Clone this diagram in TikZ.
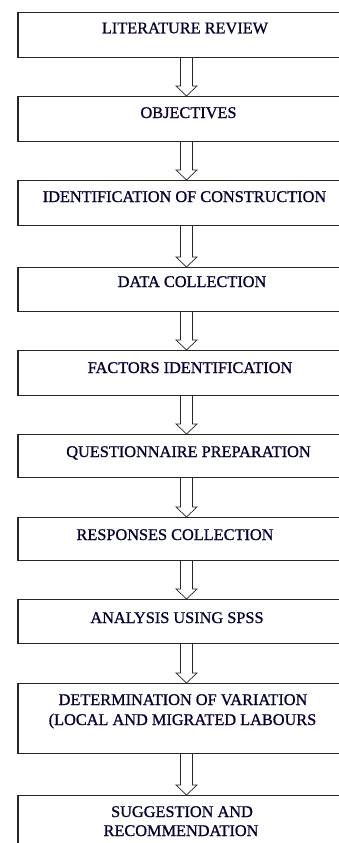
\documentclass[tikz,border=0pt]{standalone}
\usepackage{fontspec}
\setmainfont{Liberation Serif}
\newfontfamily\boxfont{Liberation Serif}[FakeBold=0.9]
\usetikzlibrary{calc}
\begin{document}
\begin{tikzpicture}[x=1pt,y=-1pt,
  stepbox/.style={draw=black!85, line width=1.2pt, rectangle, minimum width=337pt, inner sep=0pt, anchor=north},
  lbl/.style={anchor=base, inner sep=0pt, font=\boxfont\fontsize{16.3}{20}\selectfont, text=black!80!blue},
  flowarrow/.style={draw=black!85, line width=0.7pt, fill=white},
  ]
\useasboundingbox (0,0) rectangle (338,843);
\node[stepbox, minimum height=45pt] (b1) at (186.5,12) {};
\node[stepbox, minimum height=45pt] (b2) at (186.5,96) {};
\node[stepbox, minimum height=45pt] (b3) at (186.5,180) {};
\node[stepbox, minimum height=44pt] (b4) at (186.5,267) {};
\node[stepbox, minimum height=45pt] (b5) at (186.5,350) {};
\node[stepbox, minimum height=43pt] (b6) at (186.5,434) {};
\node[stepbox, minimum height=43pt] (b7) at (186.5,517) {};
\node[stepbox, minimum height=44pt] (b8) at (186.5,599) {};
\node[stepbox, minimum height=70pt] (b9) at (186.5,683) {};
\node[stepbox, minimum height=70pt] (b10) at (186.5,795) {};

\node[lbl] (t1) at (185,33.3) {LITERATURE REVIEW};
\node[lbl] (t2) at (188.5,118) {OBJECTIVES};
\node[lbl] (t3) at (184.5,202) {IDENTIFICATION OF CONSTRUCTION};
\node[lbl] (t4) at (192,287) {DATA COLLECTION};
\node[lbl] (t5) at (190,373) {FACTORS IDENTIFICATION};
\node[lbl] (t6) at (188.5,457) {QUESTIONNAIRE PREPARATION};
\node[lbl] (t7) at (175,540) {RESPONSES COLLECTION};
\node[lbl] (t8) at (177,623) {ANALYSIS USING SPSS};
\node[lbl] (t9a) at (183,705) {DETERMINATION OF VARIATION};
\node[lbl] (t9b) at (182.5,725) {(LOCAL AND MIGRATED LABOURS};
\node[lbl] (t10a) at (182,817) {SUGGESTION AND};
\node[lbl] (t10b) at (181,836) {RECOMMENDATION};

\foreach \a/\b in {b1/b2,b2/b3,b3/b4,b4/b5,b5/b6,b6/b7,b7/b8,b8/b9,b9/b10}
  \draw[flowarrow] let \p1=(\a.south), \p2=(\b.north) in
    (\x1-6pt,\y1) -- (\x1-6pt,\y2+10pt) -- (\x1-10.5pt,\y2+10pt) -- (\x1,\y2)
    -- (\x1+10.5pt,\y2+10pt) -- (\x1+6pt,\y2+10pt) -- (\x1+6pt,\y1);
\end{tikzpicture}
\end{document}
